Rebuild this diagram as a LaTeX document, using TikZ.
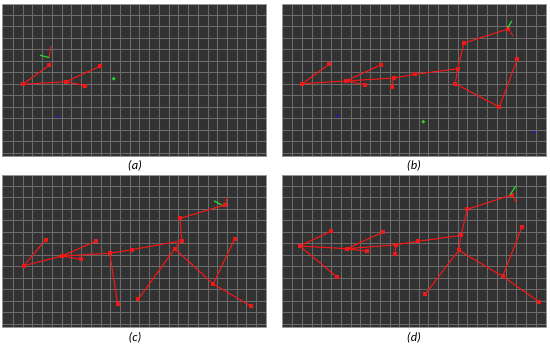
\documentclass[tikz,border=0pt]{standalone}
\usepackage{fontspec}
\setmainfont{Carlito}
\usetikzlibrary{positioning}
\definecolor{panelgray}{RGB}{50,50,50}
\definecolor{gridgray}{RGB}{108,108,108}
\definecolor{framegray}{RGB}{150,150,150}
\definecolor{jointred}{RGB}{240,24,24}
\definecolor{axisgreen}{RGB}{40,215,40}
\definecolor{markblue}{RGB}{25,25,220}

\begin{document}
\begin{tikzpicture}[x=1pt, y=-1pt,
  joint/.style={rectangle, fill=jointred, inner sep=0pt, minimum size=3.8pt},
  bone/.style={jointred, line width=1.1pt},
  redaxis/.style={jointred, line width=1.1pt},
  greenaxis/.style={axisgreen, line width=1.2pt},
  greendot/.style={circle, fill=axisgreen, inner sep=0pt, minimum size=3.8pt},
  bluedot/.style={circle, fill=markblue, inner sep=0pt, minimum size=2.8pt},
  gridline/.style={gridgray, line width=0.7pt},
  caption/.style={font=\itshape\fontsize{12.5}{14}\selectfont},
]
\useasboundingbox (0,0) rectangle (550,346);

% Panels and grids
\foreach \px/\py in {2.7/4, 282/4, 2.7/175, 282/175}{
  \fill[panelgray] (\px,\py) rectangle ++(264,152);
  \foreach \k in {0,...,25} \draw[gridline] ({\px+10.6+\k*9.73},\py) -- ++(0,152);
  \foreach \k in {0,...,12} \draw[gridline] (\px,{\py+11+\k*11.53}) -- ++(264,0);
  \draw[framegray, line width=0.6pt] (\px,\py) rectangle ++(264,152);
}

% Panel (a)
\node[joint] (a1) at (22.7,84.3) {};
\node[joint] (a2) at (49.3,65.3) {};
\node[joint] (a3) at (66,81.7) {};
\node[joint] (a4) at (100,66.3) {};
\node[joint] (a5) at (85,85.7) {};
\foreach \u/\v in {a1/a2, a1/a3, a3/a4, a3/a5}
  \draw[bone] (\u) -- (\v);
\coordinate (aorig) at (49.3,57.5);
\coordinate (ared) at (51,46);
\coordinate (agreen) at (40,55.3);
\draw[redaxis] (aorig) -- (ared);
\draw[greenaxis] (aorig) -- (agreen);
\node[greendot] (agoal) at (113.7,78.7) {};
\node[bluedot] (amark) at (58,116.7) {};
\node[caption] (capa) at (135,166) {(a)};

% Panel (b)
\node[joint] (b1) at (302.3,83.7) {};
\node[joint] (b2) at (329,64.3) {};
\node[joint] (b3) at (345.7,81) {};
\node[joint] (b4) at (380.7,65) {};
\node[joint] (b5) at (365,84.7) {};
\node[joint] (b6) at (393.7,78) {};
\node[joint] (b7) at (391.7,87) {};
\node[joint] (b8) at (415.3,74.3) {};
\node[joint] (b9) at (457.7,68.7) {};
\node[joint] (b10) at (464,43) {};
\node[joint] (b11) at (508.3,29) {};
\node[joint] (b12) at (455.3,83.7) {};
\node[joint] (b13) at (499.3,107) {};
\node[joint] (b14) at (517.3,59.3) {};
\foreach \u/\v in {b1/b2, b1/b3, b3/b4, b3/b5, b3/b6, b6/b7, b6/b8, b8/b9, b9/b10, b10/b11, b9/b12, b12/b13, b13/b14}
  \draw[bone] (\u) -- (\v);
\coordinate (borig) at (507.5,27.8);
\coordinate (bred) at (513,36);
\coordinate (bgreen) at (512,20.7);
\draw[redaxis] (b11) -- (bred);
\draw[greenaxis] (borig) -- (bgreen);
\node[greendot] (bgoal) at (423.3,121.7) {};
\node[bluedot] (bmark1) at (337.7,116.3) {};
\node[bluedot] (bmark2) at (533.7,132) {};
\node[caption] (capb) at (414,166) {(b)};

% Panel (c)
\node[joint] (c1) at (23.7,265.7) {};
\node[joint] (c2) at (45.7,239.7) {};
\node[joint] (c3) at (62,256) {};
\node[joint] (c4) at (96.3,241) {};
\node[joint] (c5) at (80.7,259.3) {};
\node[joint] (c6) at (109.7,253.3) {};
\node[joint] (c7) at (117.7,304.3) {};
\node[joint] (c8) at (131.7,249.7) {};
\node[joint] (c9) at (181.7,240.7) {};
\node[joint] (c10) at (180,218.3) {};
\node[joint] (c11) at (225,205) {};
\node[joint] (c12) at (174.7,248.7) {};
\node[joint] (c13) at (138.3,299.3) {};
\node[joint] (c14) at (213.3,284) {};
\node[joint] (c15) at (234.7,238.7) {};
\node[joint] (c16) at (250.7,306) {};
\foreach \u/\v in {c1/c2, c1/c3, c3/c4, c3/c5, c3/c6, c6/c7, c6/c8, c8/c9, c9/c10, c10/c11, c9/c12, c12/c13, c12/c14, c14/c15, c14/c16}
  \draw[bone] (\u) -- (\v);
\coordinate (corig) at (221.5,205);
\coordinate (cred) at (227.3,197.7);
\coordinate (cgreen) at (214,200.7);
\draw[redaxis] (c11) -- (cred);
\draw[greenaxis] (corig) -- (cgreen);
\node[caption] (capc) at (135,338) {(c)};

% Panel (d)
\node[joint] (d1) at (299.7,246) {};
\node[joint] (d2) at (330.7,231.3) {};
\node[joint] (d3) at (347,248.7) {};
\node[joint] (d4) at (383.3,232) {};
\node[joint] (d5) at (367.3,251.3) {};
\node[joint] (d6) at (396.3,244.7) {};
\node[joint] (d7) at (394.7,253.7) {};
\node[joint] (d8) at (418.3,241.3) {};
\node[joint] (d9) at (461,235.3) {};
\node[joint] (d10) at (467.3,209.3) {};
\node[joint] (d11) at (512.3,194.7) {};
\node[joint] (d12) at (458.7,250.3) {};
\node[joint] (d13) at (425.3,294) {};
\node[joint] (d14) at (502.7,276.3) {};
\node[joint] (d15) at (522,227) {};
\node[joint] (d16) at (539.3,302) {};
\node[joint] (d17) at (337,277) {};
\foreach \u/\v in {d1/d2, d1/d3, d1/d17, d3/d4, d3/d5, d3/d6, d6/d7, d6/d8, d8/d9, d9/d10, d10/d11, d9/d12, d12/d13, d12/d14, d14/d15, d14/d16}
  \draw[bone] (\u) -- (\v);
\coordinate (dorig) at (510,195);
\coordinate (dred) at (516.3,202.3);
\coordinate (dgreen) at (515.7,186);
\draw[redaxis] (d11) -- (dred);
\draw[greenaxis] (dorig) -- (dgreen);
\node[caption] (capd) at (414,338) {(d)};
\end{tikzpicture}
\end{document}
